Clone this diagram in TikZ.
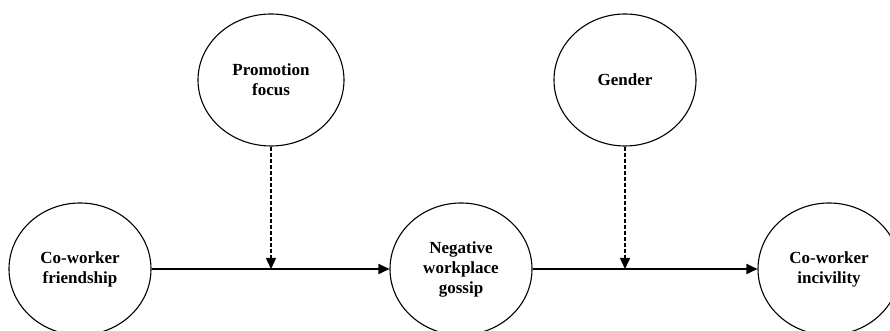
\documentclass[tikz,border=0pt]{standalone}
\usepackage{fontspec}
\setmainfont{Liberation Serif}
\usetikzlibrary{shapes.geometric,arrows.meta,positioning}
\begin{document}
\begin{tikzpicture}[x=1pt,y=1pt,line join=round,>={Triangle[length=11pt,width=10pt]}]
	\tikzset{var/.style={ellipse,draw,line width=1.1pt,minimum width=142pt,minimum height=132pt,inner sep=0pt,align=center,font=\fontsize{17}{20}\selectfont\bfseries},
		path/.style={->,line width=1.8pt},
		moder/.style={->,line width=1.5pt,dash pattern=on 4pt off 2pt}}
	\useasboundingbox (0,0) rectangle (890,331);
	\clip (0,0) rectangle (890,331);
	\node[var] (friend) at (80,62) {Co-worker\\friendship};
	\node[var] (gossip) at (461,62) {Negative\\workplace\\gossip};
	\node[var] (incivil) at (829,62) {Co-worker\\incivility};
	\node[var,minimum width=146pt] (promo) at (271,251) {Promotion\\focus};
	\node[var] (gender) at (625,251) {Gender};
	\coordinate (m1) at (promo.south |- friend.east);
	\coordinate (m2) at (gender.south |- gossip.east);
	\draw[path] (friend) -- (gossip);
	\draw[path] (gossip) -- (incivil);
	\draw[moder] (promo) -- (m1);
	\draw[moder] (gender) -- (m2);
\end{tikzpicture}
\end{document}
